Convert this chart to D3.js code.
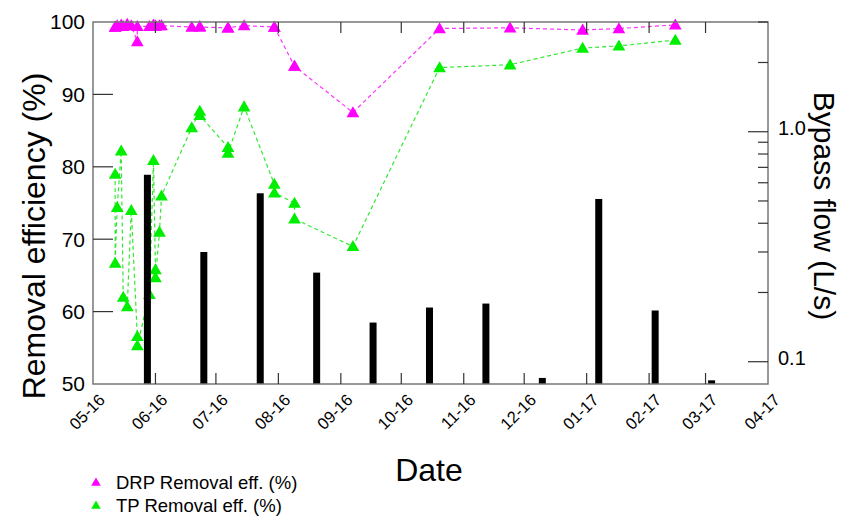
<!DOCTYPE html>
<html>
<head>
<meta charset="utf-8">
<script src="https://cdn.jsdelivr.net/npm/d3@7"></script>
<style>
  html, body { margin: 0; padding: 0; background: #fff; }
  svg { display: block; font-family: "Liberation Sans", Arial, sans-serif; }
</style>
</head>
<body>
<svg id="chart" width="843" height="516"></svg>
<script>
// Sampling dates for removal efficiency
const sampleDates = [
  "2016-05-12", "2016-05-12", "2016-05-13", "2016-05-15", "2016-05-16", "2016-05-18",
  "2016-05-20", "2016-05-23", "2016-05-23", "2016-05-29", "2016-05-31", "2016-06-01",
  "2016-06-01", "2016-06-03", "2016-06-04", "2016-06-19", "2016-06-23", "2016-06-23",
  "2016-07-07", "2016-07-07", "2016-07-15", "2016-07-30", "2016-07-30", "2016-08-09",
  "2016-08-09", "2016-09-07", "2016-10-20", "2016-11-24", "2016-12-30", "2017-01-17",
  "2017-02-14"
];
// TP removal efficiency (%)
const tpValues = [
  79.0, 66.7, 74.4, 82.2, 62.0, 60.7,
  74.0, 56.6, 55.3, 62.4, 80.9, 65.8,
  64.7, 71.0, 76.0, 85.4, 87.7, 87.1,
  82.7, 81.9, 88.3, 77.6, 76.4, 75.0,
  72.8, 69.0, 93.7, 94.1, 96.4, 96.7,
  97.5
];
// DRP removal efficiency (%)
const drpValues = [
  99.3, 99.3, 99.5, 99.6, 99.4, 99.7,
  99.5, 97.3, 99.4, 99.4, 99.6, 99.5,
  99.4, 99.5, 99.5, 99.3, 99.4, 99.3,
  99.2, 99.2, 99.5, 99.3, 99.3, 93.9,
  93.9, 87.5, 99.1, 99.2, 98.9, 99.1,
  99.6
];
// Bypass flow events (L/s)
const flowDates = [
  "2016-05-28", "2016-06-25", "2016-07-23", "2016-08-20", "2016-09-17", "2016-10-15",
  "2016-11-12", "2016-12-10", "2017-01-07", "2017-02-04", "2017-03-04"
];
const flowValues = [0.65, 0.30, 0.54, 0.244, 0.148, 0.172, 0.179, 0.085, 0.51, 0.167, 0.083];

// Axis ticks
const monthTicks = [
  "2016-05-01", "2016-06-01", "2016-07-01", "2016-08-01", "2016-09-01", "2016-10-01",
  "2016-11-01", "2016-12-01", "2017-01-01", "2017-02-01", "2017-03-01", "2017-04-01"
];
const leftTicks = [50, 60, 70, 80, 90, 100];
const rightMajorTicks = [0.1, 1.0];
const rightMinorTicks = [0.2, 0.3, 0.4, 0.5, 0.6, 0.7, 0.8, 0.9, 2, 3];
const legendLabels = ["DRP Removal eff. (%)", "TP Removal eff. (%)"];

(function draw() {
  const parse = d3.utcParse("%Y-%m-%d");
  const fmt = d3.utcFormat("%m-%y");

  const svg = d3.select("#chart");
  const pl = 93, pt = 22, pr = 768, pb = 384;

  const x = d3.scaleUtc()
    .domain([parse("2016-05-01"), parse("2017-04-01")])
    .range([pl, pr]);
  const y = d3.scaleLinear().domain([50, 100]).range([pb, pt]);
  const yR = d3.scaleLog().domain([0.08, 3]).range([pb, pt]);

  const colDRP = "#ff00ff", colTP = "#00ee00";

  const eff = sampleDates.map((d, i) => ({ date: parse(d), tp: tpValues[i], drp: drpValues[i] }));
  const flow = flowDates.map((d, i) => ({ date: parse(d), v: flowValues[i] }));

  // Efficiency series: dashed connectors and triangle markers
  const tri = d3.symbol().type(d3.symbolTriangle).size(70);
  function series(key, color, lineColor) {
    const line = d3.line().x(d => x(d.date)).y(d => y(d[key]));
    svg.append("path").datum(eff)
      .attr("d", line)
      .attr("fill", "none")
      .attr("stroke", lineColor)
      .attr("stroke-width", 1.2)
      .attr("stroke-dasharray", "4,3");
    svg.append("g").selectAll("path").data(eff).join("path")
      .attr("d", tri)
      .attr("transform", d => `translate(${x(d.date)},${y(d[key]) + 1})`)
      .attr("fill", color);
  }
  series("tp", colTP, "#33e833");
  series("drp", colDRP, "#ff33ff");

  // Bypass flow bars on the log axis
  svg.append("g").selectAll("rect").data(flow).join("rect")
    .attr("x", d => x(d.date) - 3.5)
    .attr("width", 7)
    .attr("y", d => yR(d.v))
    .attr("height", d => pb - yR(d.v))
    .attr("fill", "#000");

  // Frame
  svg.append("rect")
    .attr("x", pl).attr("y", pt)
    .attr("width", pr - pl).attr("height", pb - pt)
    .attr("fill", "none").attr("stroke", "#777").attr("stroke-width", 1.5);

  const tickCol = "#333";
  // Month ticks, inward on top and bottom
  const inner = monthTicks.slice(1, -1).map(parse);
  svg.append("g").selectAll("line").data(inner).join("line")
    .attr("x1", d => x(d)).attr("x2", d => x(d))
    .attr("y1", pt).attr("y2", pt + 11)
    .attr("stroke", tickCol).attr("stroke-width", 1.2);
  svg.append("g").selectAll("line").data(inner).join("line")
    .attr("x1", d => x(d)).attr("x2", d => x(d))
    .attr("y1", pb).attr("y2", pb - 11)
    .attr("stroke", tickCol).attr("stroke-width", 1.2);

  // Left ticks, inward
  svg.append("g").selectAll("line").data(leftTicks.slice(1, -1)).join("line")
    .attr("x1", pl).attr("x2", pl + 20)
    .attr("y1", d => y(d)).attr("y2", d => y(d))
    .attr("stroke", tickCol).attr("stroke-width", 1.2);
  svg.append("g").selectAll("text").data(leftTicks).join("text")
    .attr("x", pl - 8).attr("y", d => y(d))
    .attr("dy", "0.35em")
    .attr("text-anchor", "end")
    .attr("font-size", 21)
    .text(d => d);

  // Right log ticks, inward
  svg.append("g").selectAll("line").data(rightMajorTicks).join("line")
    .attr("x1", pr - 20).attr("x2", pr)
    .attr("y1", d => yR(d)).attr("y2", d => yR(d))
    .attr("stroke", tickCol).attr("stroke-width", 1.2);
  svg.append("g").selectAll("line").data(rightMinorTicks).join("line")
    .attr("x1", pr - 10).attr("x2", pr)
    .attr("y1", d => yR(d)).attr("y2", d => yR(d))
    .attr("stroke", tickCol).attr("stroke-width", 1.2);
  svg.append("g").selectAll("text").data(rightMajorTicks).join("text")
    .attr("x", pr + 10).attr("y", d => yR(d) - 4)
    .attr("dy", "0.35em")
    .attr("font-size", 20)
    .text(d => d3.format(".1f")(d));

  // Month labels, rotated
  svg.append("g").selectAll("text").data(monthTicks.map(parse)).join("text")
    .attr("transform", d => `translate(${x(d) + 13},${pb + 17}) rotate(-45)`)
    .attr("text-anchor", "end")
    .attr("font-size", 16.5)
    .text(d => fmt(d));

  // Axis titles
  svg.append("text")
    .attr("transform", `translate(45,236) rotate(-90)`)
    .attr("text-anchor", "middle")
    .attr("font-size", 32)
    .text("Removal efficiency (%)");
  svg.append("text")
    .attr("transform", `translate(814,206) rotate(90)`)
    .attr("text-anchor", "middle")
    .attr("font-size", 30)
    .text("Bypass flow (L/s)");
  svg.append("text")
    .attr("x", 429).attr("y", 481)
    .attr("text-anchor", "middle")
    .attr("font-size", 32)
    .text("Date");

  // Legend
  const legTri = d3.symbol().type(d3.symbolTriangle).size(40);
  const legend = svg.append("g").selectAll("g").data(legendLabels).join("g")
    .attr("transform", (d, i) => `translate(96,${483 + i * 23})`);
  legend.append("path")
    .attr("d", legTri)
    .attr("fill", (d, i) => i === 0 ? colDRP : colTP);
  legend.append("text")
    .attr("x", 20).attr("y", 0).attr("dy", "0.35em")
    .attr("font-size", 18.5)
    .text(d => d);
})();
</script>
</body>
</html>
